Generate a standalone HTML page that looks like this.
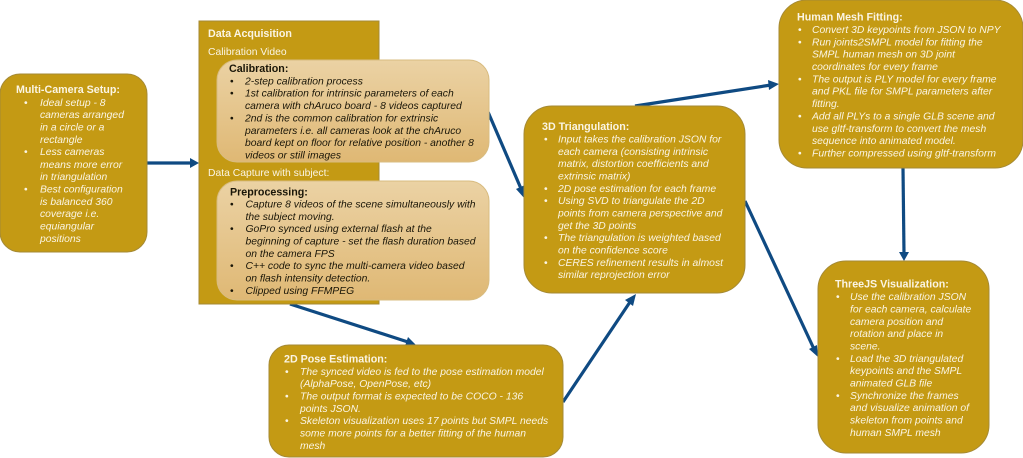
<!DOCTYPE html>
<html><head><meta charset="utf-8"><style>
html,body{margin:0;padding:0;background:#fff;width:1023px;height:458px;overflow:hidden}
svg{display:block;filter:blur(0.3px)}
text{font-family:"Liberation Sans",sans-serif;font-size:10.35px}
.w{fill:#fbf5e4}.k{fill:#1a1608}
.t{font-weight:bold;font-size:10.7px}.i{font-style:italic}
.g{fill:#c49a14;stroke:#a58a35;stroke-width:1}
.c{fill:url(#lg);stroke:#d8bc80;stroke-width:1}
.a{stroke:#0f4a82;stroke-width:3.2;fill:none}
.h{fill:#0f4a82}
</style></head><body>
<svg width="1023" height="458" viewBox="0 0 1023 458" xmlns="http://www.w3.org/2000/svg">
<defs><linearGradient id="lg" x1="0" y1="0" x2="0" y2="1"><stop offset="0" stop-color="#ebd2a4"/><stop offset="1" stop-color="#dfb874"/></linearGradient></defs>

<line class="a" x1="147" y1="163" x2="192" y2="163"/><polygon class="h" points="199,163 190,158 190,168"/>
<line class="a" x1="470" y1="70" x2="522" y2="191"/><polygon class="h" points="525,199 516,189 525,185"/>
<line class="a" x1="290" y1="304" x2="408" y2="342"/><polygon class="h" points="416,345 405,346 408,337"/>
<line class="a" x1="563" y1="402" x2="630" y2="302"/><polygon class="h" points="636,294 633,306 625,300"/>
<line class="a" x1="635" y1="106" x2="771" y2="85"/><polygon class="h" points="779,84 769,90 768,80"/>
<line class="a" x1="903" y1="168" x2="904" y2="254"/><polygon class="h" points="904,261 899,252 909,252"/>
<line class="a" x1="745" y1="201" x2="814" y2="349"/><polygon class="h" points="818,357 809,349 817,345"/>

<rect class="g" x="0" y="74" width="147" height="178" rx="20"/>
<text class="w t" x="16" y="93">Multi-Camera Setup:</text>
<g class="w">
<text x="24" y="106">•</text><text class="i" x="40" y="106">Ideal setup - 8</text>
<text class="i" x="40" y="118">cameras arranged</text>
<text class="i" x="40" y="130.500">in a circle or a</text>
<text class="i" x="40" y="143">rectangle</text>
<text x="24" y="155">•</text><text class="i" x="40" y="155">Less cameras</text>
<text class="i" x="40" y="168">means more error</text>
<text class="i" x="40" y="180">in triangulation</text>
<text x="24" y="192.500">•</text><text class="i" x="40" y="192.500">Best configuration</text>
<text class="i" x="40" y="205">is balanced 360</text>
<text class="i" x="40" y="217">coverage i.e.</text>
<text class="i" x="40" y="229.500">equiangular</text>
<text class="i" x="40" y="242">positions</text>
</g>

<rect class="g" x="199" y="21" width="180" height="283"/>
<text class="w t" x="208" y="37">Data Acquisition</text>
<text class="w" x="208" y="55">Calibration Video</text>
<text class="w" x="208" y="176">Data Capture with subject:</text>

<rect class="c" x="217" y="60" width="272" height="102" rx="20"/>
<g class="k">
<text class="t" x="229" y="72">Calibration:</text>
<text x="230" y="84.500">•</text><text class="i" x="245" y="84.500">2-step calibration process</text>
<text x="230" y="96.500">•</text><text class="i" x="245" y="96.500">1st calibration for intrinsic parameters of each</text>
<text class="i" x="245" y="109">camera with chAruco board - 8 videos captured</text>
<text x="230" y="121.500">•</text><text class="i" x="245" y="121.500">2nd is the common calibration for extrinsic</text>
<text class="i" x="245" y="134">parameters i.e. all cameras look at the chAruco</text>
<text class="i" x="245" y="146">board kept on floor for relative position - another 8</text>
<text class="i" x="245" y="158.500">videos or still images</text>
</g>

<rect class="c" x="217" y="181" width="272" height="119" rx="20"/>
<g class="k">
<text class="t" x="230" y="195.500">Preprocessing:</text>
<text x="230" y="207.500">•</text><text class="i" x="245.500" y="207.500">Capture 8 videos of the scene simultaneously with</text>
<text class="i" x="245.500" y="220">the subject moving.</text>
<text x="230" y="232">•</text><text class="i" x="245.500" y="232">GoPro synced using external flash at the</text>
<text class="i" x="245.500" y="244.500">beginning of capture - set the flash duration based</text>
<text class="i" x="245.500" y="257">on the camera FPS</text>
<text x="230" y="269">•</text><text class="i" x="245.500" y="269">C++ code to sync the multi-camera video based</text>
<text class="i" x="245.500" y="281.500">on flash intensity detection.</text>
<text x="230" y="294">•</text><text class="i" x="245.500" y="294">Clipped using FFMPEG</text>
</g>

<rect class="g" x="269" y="345" width="294" height="112" rx="20"/>
<g class="w">
<text class="t" x="284" y="362.500">2D Pose Estimation:</text>
<text x="285" y="375">•</text><text class="i" x="300" y="375">The synced video is fed to the pose estimation model</text>
<text class="i" x="300" y="387">(AlphaPose, OpenPose, etc)</text>
<text x="285" y="399.500">•</text><text class="i" x="300" y="399.500">The output format is expected to be COCO - 136</text>
<text class="i" x="300" y="412">points JSON.</text>
<text x="285" y="424">•</text><text class="i" x="300" y="424">Skeleton visualization uses 17 points but SMPL needs</text>
<text class="i" x="300" y="436.500">some more points for a better fitting of the human</text>
<text class="i" x="300" y="449">mesh</text>
</g>

<rect class="g" x="524" y="106" width="221" height="187" rx="28"/>
<g class="w">
<text class="t" x="542" y="130">3D Triangulation:</text>
<text x="544" y="142.500">•</text><text class="i" x="558" y="142.500">Input takes the calibration JSON for</text>
<text class="i" x="558" y="155">each camera (consisting intrinsic</text>
<text class="i" x="558" y="167">matrix, distortion coefficients and</text>
<text class="i" x="558" y="179.500">extrinsic matrix)</text>
<text x="544" y="192">•</text><text class="i" x="558" y="192">2D pose estimation for each frame</text>
<text x="544" y="204">•</text><text class="i" x="558" y="204">Using SVD to triangulate the 2D</text>
<text class="i" x="558" y="216.500">points from camera perspective and</text>
<text class="i" x="558" y="229">get the 3D points</text>
<text x="544" y="241">•</text><text class="i" x="558" y="241">The triangulation is weighted based</text>
<text class="i" x="558" y="253.500">on the confidence score</text>
<text x="544" y="266">•</text><text class="i" x="558" y="266">CERES refinement results in almost</text>
<text class="i" x="558" y="278">similar reprojection error</text>
</g>

<rect class="g" x="779" y="0" width="244" height="168" rx="28"/>
<g class="w">
<text class="t" x="797" y="20.500">Human Mesh Fitting:</text>
<text x="798" y="33">•</text><text class="i" x="812" y="33">Convert 3D keypoints from JSON to NPY</text>
<text x="798" y="45.500">•</text><text class="i" x="812" y="45.500">Run joints2SMPL model for fitting the</text>
<text class="i" x="812" y="57.500">SMPL human mesh on 3D joint</text>
<text class="i" x="812" y="70">coordinates for every frame</text>
<text x="798" y="82.500">•</text><text class="i" x="812" y="82.500">The output is PLY model for every frame</text>
<text class="i" x="812" y="94.500">and PKL file for SMPL parameters after</text>
<text class="i" x="812" y="107">fitting.</text>
<text x="798" y="119.500">•</text><text class="i" x="812" y="119.500">Add all PLYs to a single GLB scene and</text>
<text class="i" x="812" y="132">use gltf-transform to convert the mesh</text>
<text class="i" x="812" y="144">sequence into animated model.</text>
<text x="798" y="156.500">•</text><text class="i" x="812" y="156.500">Further compressed using gltf-transform</text>
</g>

<rect class="g" x="818" y="261" width="171" height="192" rx="28"/>
<g class="w">
<text class="t" x="835" y="287.500">ThreeJS Visualization:</text>
<text x="836" y="300">•</text><text class="i" x="850" y="300">Use the calibration JSON</text>
<text class="i" x="850" y="312.500">for each camera, calculate</text>
<text class="i" x="850" y="325">camera position and</text>
<text class="i" x="850" y="337">rotation and place in</text>
<text class="i" x="850" y="349.500">scene.</text>
<text x="836" y="362">•</text><text class="i" x="850" y="362">Load the 3D triangulated</text>
<text class="i" x="850" y="374">keypoints and the SMPL</text>
<text class="i" x="850" y="386.500">animated GLB file</text>
<text x="836" y="399">•</text><text class="i" x="850" y="399">Synchronize the frames</text>
<text class="i" x="850" y="411">and visualize animation of</text>
<text class="i" x="850" y="423.500">skeleton from points and</text>
<text class="i" x="850" y="436">human SMPL mesh</text>
</g>
</svg>
</body></html>
